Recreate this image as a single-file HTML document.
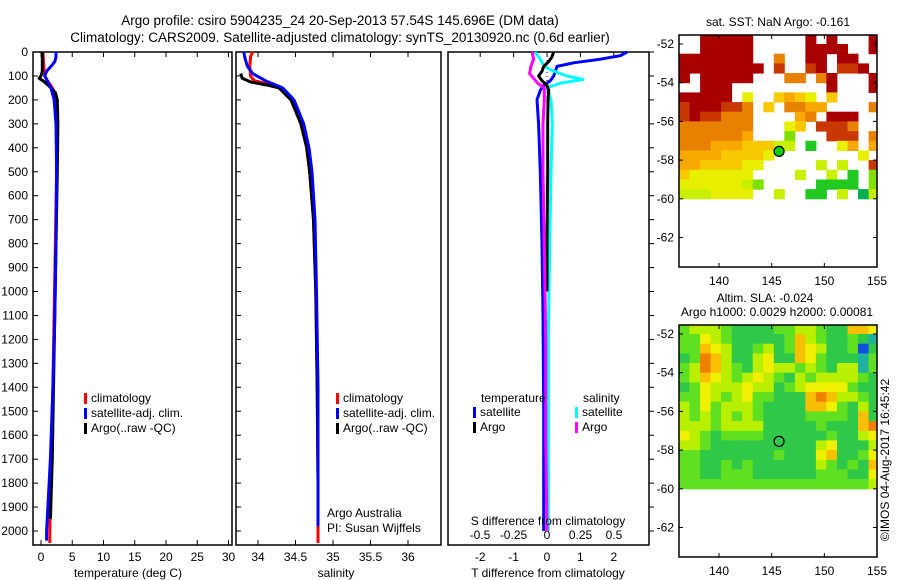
<!DOCTYPE html>
<html><head><meta charset="utf-8">
<style>
html,body{margin:0;padding:0;background:#fff;}
svg{display:block;font-family:"Liberation Sans",sans-serif;}
</style></head>
<body>
<svg id="fig" width="900" height="580" viewBox="0 0 900 580">
<text x="340" y="25" font-size="13.5" text-anchor="middle">Argo profile: csiro 5904235_24 20-Sep-2013 57.54S 145.696E (DM data)</text>
<text x="340" y="42" font-size="13.5" text-anchor="middle">Climatology: CARS2009. Satellite-adjusted climatology: synTS_20130920.nc (0.6d earlier)</text>
<g id="g"></g>
</svg>
<script>
// ---------- data ----------
const depthTicks=[0,100,200,300,400,500,600,700,800,900,1000,1100,1200,1300,1400,1500,1600,1700,1800,1900,2000];
const tempTicks=[0,5,10,15,20,25,30];
const salTicks=[34,34.5,35,35.5,36];
const tdiffTicks=[-2,-1,0,1,2];
const sdiffTicks=[-0.5,-0.25,0,0.25,0.5];
const sdiffTickLabels=["-0.5","-0.25","0","0.25","0.5"];

const tClimDepth=[0,40,80,100,120,140,170,220,300,500,800,1100,1400,1700,2000,2050];
const tClimVal=[0.3,0.4,0.5,0.6,1.0,1.6,2.2,2.4,2.5,2.5,2.3,2.1,1.9,1.6,1.4,1.4];
const tSatDepth=[0,20,40,60,80,100,120,150,200,300,500,800,1100,1400,1700,2000,2040];
const tSatVal=[2.4,2.4,2.2,1.6,0.9,0.6,1.0,1.6,2.1,2.4,2.5,2.4,2.2,1.9,1.5,0.9,0.9];
const tArgoDepth=[0,40,80,100,110,120,140,170,200,300,500,800,1100,1400,1700,1950];
const tArgoVal=[0.2,0.2,0.2,0.0,-0.3,0.3,1.2,2.3,2.6,2.7,2.6,2.4,2.2,2.0,1.8,1.5];

const sClimDepth=[0,20,60,100,120,135,150,200,300,400,500,700,1000,1400,1800,2050];
const sClimVal=[33.93,33.9,33.89,33.9,33.95,34.15,34.3,34.45,34.58,34.65,34.69,34.74,34.77,34.79,34.8,34.8];
const sSatDepth=[0,30,60,90,120,150,200,300,400,500,700,1000,1400,1800,1980];
const sSatVal=[33.81,33.83,33.86,33.93,34.1,34.33,34.48,34.61,34.68,34.72,34.76,34.78,34.8,34.8,34.8];
const sArgoDepth=[90,110,125,140,150,200,300,400,500,700,1000,1400,1800,1950];
const sArgoVal=[33.77,33.79,33.9,34.15,34.28,34.44,34.57,34.65,34.69,34.74,34.77,34.79,34.8,34.8];

const dTSatDepth=[0,15,30,45,60,80,100,120,140,160,200,300,500,800,1100,1500,2000];
const dTSatVal=[2.4,2.2,1.6,0.8,0.3,0.25,0.2,0.1,-0.1,-0.2,-0.3,-0.25,-0.2,-0.15,-0.12,-0.1,-0.1];
const dTArgoDepth=[0,20,40,60,80,100,120,140,160,200,300,500,800,1000];
const dTArgoVal=[0.2,0.15,0.05,-0.1,-0.15,-0.25,-0.15,0.0,0.05,0.03,0.02,0.02,0.0,0.0];
const dSSatDepth=[0,30,60,80,100,115,130,150,200,300,500,800,1200,1600,2000];
const dSSatVal=[-0.09,-0.05,-0.02,0.05,0.15,0.27,0.1,0.0,0.03,0.04,0.03,0.02,0.01,0.01,0.01];
const dSArgoDepth=[0,30,60,90,110,130,150,200,300,500,800,1200,1600,2000];
const dSArgoVal=[-0.11,-0.1,-0.12,-0.13,-0.1,-0.07,-0.02,-0.02,-0.03,-0.03,-0.02,-0.01,-0.01,0.0];

const latTicks=[-52,-54,-56,-58,-60,-62];
const lonTicks=[140,145,150,155];
const sstRows=[
"..99999.....9.9...9",
"..99999.....9999..9",
"9999999..7..99.99..",
"99999999.8..89.889.",
"9.99999...77.79...9",
"..999.........9...9",
"99999.4..5654.5....",
"8999887.5.7766....7",
"8988777....67.999..",
"7777777...45.8887..",
"7777776...2...888.7",
"77766655533.1..46.6",
"666655554........4.",
"66555544.....3.3..8",
"5444444....3..3.1.2",
"44444432.....1111.2",
"3334444..3..11.3.03"];
const slaRows=[
"3444322223344322665",
"3354322222364322321",
"3365422342365422302",
"2376422452265322213",
"3476432454434324413",
"3465434543243444432",
"2354445442345555322",
"3354345332226764432",
"4353444322226653242",
"4343434322223333262",
"4443444422222322267",
"5432333322222232245",
"4432222222222452224",
"3322222223222562235",
"3322323222222432326",
"3322333222222333225",
"3333333333333333334"];
const sstColors=["#00b050","#20c820","#80e000","#c8f000","#e8f000","#f8c800","#f8a800","#e88000","#c83800","#a80000"];
const slaColors=["#1050e0","#20b0a0","#30c848","#60e020","#b8f000","#f0f000","#f8c000","#f08000"];
const argoLon=145.7, argoLat=-57.55;

// ---------- helpers ----------
const NS="http://www.w3.org/2000/svg";
const G=document.getElementById('g');
function mk(tag,attrs,parent){const e=document.createElementNS(NS,tag);for(const k in attrs)e.setAttribute(k,attrs[k]);(parent||G).appendChild(e);return e;}
function txt(x,y,s,size,anchor,parent){const t=mk('text',{x:x,y:y,'font-size':size||12,'text-anchor':anchor||'start'},parent);t.textContent=s;return t;}
const yD=d=>52+d*0.2395;
function line(xs,ds,xf,color,name,w){
  let p=xs.map((v,i)=>(i?'L':'M')+xf(v).toFixed(1)+' '+yD(ds[i]).toFixed(1)).join(' ');
  const e=mk('path',{d:p,fill:'none',stroke:color,'stroke-width':w||3,'stroke-linejoin':'round'});
  
  
}
function frame(x0,x1,name){
  const r=mk('rect',{x:x0,y:52,width:x1-x0,height:493,fill:'none',stroke:'#000','stroke-width':1.5});
  
  
}
function depthTicksOn(x,dir){depthTicks.forEach(d=>mk('line',{x1:x,x2:x+dir*5,y1:yD(d),y2:yD(d),stroke:'#000'}));}

// ---------- panel 1 temperature ----------
const xT=v=>41+v*6.25;
frame(33,232,'temperature-panel');
depthTicks.forEach(d=>{const t=txt(28,yD(d)+4,String(d),12,'end');});
depthTicksOn(33,1);
tempTicks.forEach(v=>{mk('line',{x1:xT(v),x2:xT(v),y1:545,y2:540,stroke:'#000'});mk('line',{x1:xT(v),x2:xT(v),y1:52,y2:57,stroke:'#000'});
 const t=txt(xT(v),561,String(v),12,'middle');});
line(tClimVal,tClimDepth,xT,'#f00','temp-climatology-line');
line(tArgoVal,tArgoDepth,xT,'#000','temp-argo-line');
line(tSatVal,tSatDepth,xT,'#00f','temp-satellite-line');
let t1=txt(128,577,'temperature (deg C)',12,'middle');
function legend(x,y,items){items.forEach((it,i)=>{mk('rect',{x:x,y:y+i*15-9,width:3,height:11,fill:it[0]});const t=txt(x+7,y+i*15,it[1],12);});}
legend(84,402,[['#f00','climatology'],['#00f','satellite-adj. clim.'],['#000','Argo(..raw -QC)']]);

// ---------- panel 2 salinity ----------
const xS=v=>258+(v-34)*75;
frame(236,441,'salinity-panel');
depthTicksOn(236,1);
salTicks.forEach(v=>{mk('line',{x1:xS(v),x2:xS(v),y1:545,y2:540,stroke:'#000'});mk('line',{x1:xS(v),x2:xS(v),y1:52,y2:57,stroke:'#000'});
 const t=txt(xS(v),561,String(v),12,'middle');});
line(sClimVal,sClimDepth,xS,'#f00','sal-climatology-line');
line(sArgoVal,sArgoDepth,xS,'#000','sal-argo-line');
line(sSatVal,sSatDepth,xS,'#00f','sal-satellite-line');
let t2=txt(336,577,'salinity',12,'middle');
legend(336,402,[['#f00','climatology'],['#00f','satellite-adj. clim.'],['#000','Argo(..raw -QC)']]);
let t3=txt(327,517,'Argo Australia',12);
let t4=txt(327,532,'PI: Susan Wijffels',12);

// ---------- panel 3 differences ----------
const xDT=v=>547+v*33.4;
const xDS=v=>547+v*134;
frame(448,649,'difference-panel');
depthTicks.forEach(d=>{mk('line',{x1:649,x2:654,y1:yD(d),y2:yD(d),stroke:'#000'});});
tdiffTicks.forEach(v=>{mk('line',{x1:xDT(v),x2:xDT(v),y1:52,y2:57,stroke:'#000'});
 const t=txt(xDT(v),561,String(v),12,'middle');});
sdiffTicks.forEach((v,i)=>{const t=txt(xDS(v),539,sdiffTickLabels[i],12,'middle');});
mk('line',{x1:547,x2:547,y1:52,y2:150,stroke:'#000','stroke-dasharray':'1,3'});
line(dTSatVal,dTSatDepth,xDT,'#00f','tdiff-satellite-line');
line(dSSatVal,dSSatDepth,xDS,'#0ff','sdiff-satellite-line');
line(dTArgoVal,dTArgoDepth,xDT,'#000','tdiff-argo-line');
line(dSArgoVal,dSArgoDepth,xDS,'#f0f','sdiff-argo-line');
let t5=txt(481,402,'temperature',12);
let t6=txt(583,402,'salinity',12);
legend(473,416,[['#00f','satellite'],['#000','Argo']]);
legend(575,416,[['#0ff','satellite'],['#f0f','Argo']]);
let t7=txt(548,525,'S difference from climatology',12,'middle');
let t8=txt(548,577,'T difference from climatology',12,'middle');

// ---------- maps ----------
function drawMap(top,rows,colors,name,argoFill){
  const L=679,R=877,lon0=136.2,lon1=155;
  const xL=v=>L+(v-lon0)*(R-L)/(lon1-lon0);
  const yL=v=>top+9+(-52-v)*19.35;
  const grp=mk('g',{});
  
  
  rows.forEach((row,ri)=>{const latTop=-51.5-ri*0.5;
    for(let ci=0;ci<row.length;ci++){const c=row[ci];if(c==='.')continue;
      const lo=lon0+ci, hi=Math.min(lo+1,lon1);
      const y0=Math.max(yL(latTop),top);
      const cell=mk('rect',{x:xL(lo).toFixed(1),y:y0.toFixed(1),width:(xL(hi)-xL(lo)+0.5).toFixed(1),height:(yL(latTop-0.5)-y0+0.5).toFixed(1),fill:colors[+c]},grp);
      
      
    }});
  const fr=mk('rect',{x:L,y:top,width:R-L,height:232,fill:'none',stroke:'#000','stroke-width':1.5});
  
  
  latTicks.forEach(v=>{mk('line',{x1:L,x2:L+4,y1:yL(v),y2:yL(v),stroke:'#000'});mk('line',{x1:R,x2:R-4,y1:yL(v),y2:yL(v),stroke:'#000'});
    const t=txt(L-5,yL(v)+4,String(v),12,'end');});
  lonTicks.forEach(v=>{mk('line',{x1:xL(v),x2:xL(v),y1:top+232,y2:top+228,stroke:'#000'});mk('line',{x1:xL(v),x2:xL(v),y1:top,y2:top+4,stroke:'#000'});
    const t=txt(xL(v),top+250,String(v),12,'middle');});
  const m=mk('circle',{cx:xL(argoLon),cy:yL(argoLat),r:5,fill:argoFill,stroke:'#000','stroke-width':1.2});
  
  
}
drawMap(35,sstRows,sstColors,'sst-map','#00d000');
drawMap(325,slaRows,slaColors,'sla-map','none');
let t9=txt(778,26,'sat. SST: NaN Argo: -0.161',12,'middle');
let t10=txt(765,302,'Altim. SLA: -0.024',12,'middle');
let t11=txt(777,316,'Argo h1000: 0.0029 h2000: 0.00081',12,'middle');
let t12=txt(0,0,'©IMOS 04-Aug-2017 16:45:42',12,'middle');
t12.setAttribute('transform','translate(889,460) rotate(-90)');


</script>
</body></html>
